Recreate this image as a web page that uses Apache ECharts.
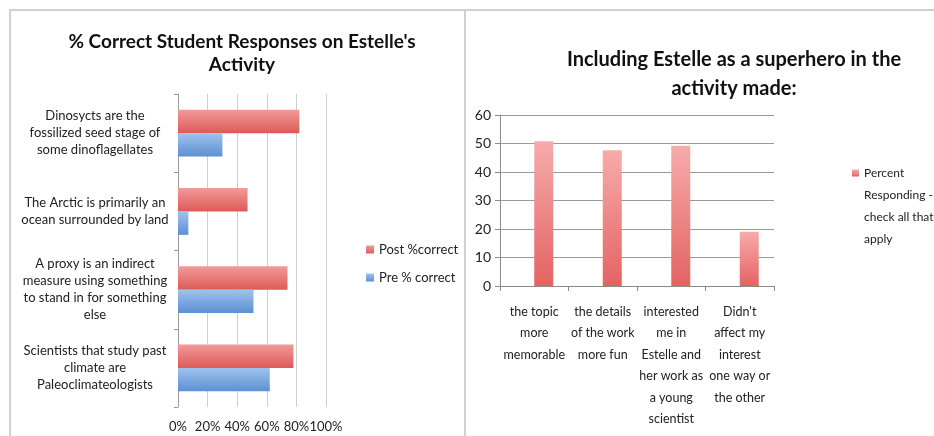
<!DOCTYPE html>
<html>
<head>
<meta charset="utf-8">
<script src="https://cdn.jsdelivr.net/npm/echarts@6/dist/echarts.min.js"></script>
<style>html,body{margin:0;padding:0;background:#fff;}#c{width:934px;height:436px;}</style>
</head>
<body>
<div id="c"></div>
<script>
// Left chart data
const leftTitle = "% Correct Student Responses on Estelle's\nActivity";
const leftCategories = [
  "Dinosycts are the\nfossilized seed stage of\nsome dinoflagellates",
  "The Arctic is primarily an\nocean surrounded by land",
  "A proxy is an indirect\nmeasure using something\nto stand in for something\nelse",
  "Scientists that study past\nclimate are\nPaleoclimateologists"
];
const postCorrect = [82, 47, 74, 78];
const preCorrect = [30, 7, 51, 62];
const leftSeriesNames = ["Post %correct", "Pre % correct"];

// Right chart data
const rightTitle = "Including Estelle as a superhero in the\nactivity made:";
const rightCategories = [
  "the topic\nmore\nmemorable",
  "the details\nof the work\nmore fun",
  "interested\nme in\nEstelle and\nher work as\na young\nscientist",
  "Didn't\naffect my\ninterest\none way or\nthe other"
];
const percentResponding = [50.8, 47.6, 49.2, 19.0];
const rightSeriesName = "Percent\nResponding -\ncheck all that\napply";

const FONT = "Lato";
const chart = echarts.init(document.getElementById('c'));

function vgrad(a, b) {
  return new echarts.graphic.LinearGradient(0, 0, 0, 1, [{offset: 0, color: a}, {offset: 1, color: b}]);
}

chart.setOption({
  animation: false,
  textStyle: {fontFamily: FONT, color: '#222'},
  graphic: [
    {type: 'rect', shape: {x: 10, y: 10, width: 455, height: 440}, style: {fill: 'none', stroke: '#d0d0d0', lineWidth: 2}, silent: true},
    {type: 'rect', shape: {x: 465, y: 10, width: 480, height: 440}, style: {fill: 'none', stroke: '#d0d0d0', lineWidth: 2}, silent: true}
  ],
  title: [
    {text: leftTitle, left: 237, top: 25, textAlign: 'center',
     textStyle: {fontFamily: FONT, fontSize: 19, fontWeight: 'bold', color: '#111', lineHeight: 23}},
    {text: rightTitle, left: 729, top: 40, textAlign: 'center',
     textStyle: {fontFamily: FONT, fontSize: 20, fontWeight: 'bold', color: '#111', lineHeight: 29}}
  ],
  legend: [
    {orient: 'vertical', left: 361, top: 238, itemWidth: 8, itemHeight: 8, itemGap: 15, icon: 'rect',
     data: leftSeriesNames, textStyle: {fontFamily: FONT, fontSize: 13, color: '#222'}},
    {orient: 'vertical', left: 847, top: 118, itemWidth: 7, itemHeight: 7, icon: 'rect', itemGap: 0,
     data: [rightSeriesName],
     formatter: function (name) {
       return '{b| }\n' + name.split('\n').map(s => '{a|' + s + '}').join('\n');
     },
     textStyle: {fontFamily: FONT, fontSize: 12, color: '#222',
       rich: {a: {fontFamily: FONT, fontSize: 12, lineHeight: 22, color: '#222'},
              b: {fontSize: 12, lineHeight: 66}}}}
  ],
  grid: [
    {left: 178, right: 608, top: 94, bottom: 29, outerBoundsMode: 'none', containLabel: false},
    {left: 500, right: 160, top: 115, bottom: 150, outerBoundsMode: 'none', containLabel: false}
  ],
  xAxis: [
    {type: 'value', gridIndex: 0, min: 0, max: 100, interval: 20,
     axisLine: {show: false}, axisTick: {show: false},
     splitLine: {lineStyle: {color: '#cfcfcf', width: 1}},
     axisLabel: {formatter: '{value}%', fontSize: 13, margin: 13, color: '#222', fontFamily: FONT, hideOverlap: false}},
    {type: 'category', gridIndex: 1, data: rightCategories,
     axisLine: {lineStyle: {color: '#8a8a8a'}},
     axisTick: {show: true, length: 5, lineStyle: {color: '#8a8a8a'}},
     axisLabel: {fontSize: 12.5, lineHeight: 21.5, margin: 15, color: '#222', fontFamily: FONT, interval: 0}}
  ],
  yAxis: [
    {type: 'category', gridIndex: 0, inverse: true, data: leftCategories,
     axisLine: {lineStyle: {color: '#9a9a9a'}},
     axisTick: {show: true, length: 4, lineStyle: {color: '#9a9a9a'}},
     axisLabel: {align: 'center', margin: 83, fontSize: 13, lineHeight: 17, color: '#222', fontFamily: FONT, interval: 0}},
    {type: 'value', gridIndex: 1, min: 0, max: 60, interval: 10,
     axisLine: {show: true, lineStyle: {color: '#8a8a8a'}},
     axisTick: {show: true, length: 5, lineStyle: {color: '#8a8a8a'}},
     splitLine: {lineStyle: {color: '#9a9a9a'}},
     axisLabel: {fontSize: 14, margin: 9, color: '#222', fontFamily: FONT}}
  ],
  series: [
    {name: leftSeriesNames[0], type: 'bar', xAxisIndex: 0, yAxisIndex: 0, data: postCorrect,
     barGap: '0%', barCategoryGap: '40%',
     itemStyle: {color: vgrad('#f39a98', '#dc5b58')}},
    {name: leftSeriesNames[1], type: 'bar', xAxisIndex: 0, yAxisIndex: 0, data: preCorrect,
     barGap: '0%', barCategoryGap: '40%',
     itemStyle: {color: vgrad('#9fc3ee', '#5d8fd3')}},
    {name: '', type: 'bar', xAxisIndex: 1, yAxisIndex: 1, data: [null, null, null, null],
     barWidth: 19, barGap: '0%'},
    {name: rightSeriesName, type: 'bar', xAxisIndex: 1, yAxisIndex: 1, data: percentResponding,
     barWidth: 19, barGap: '0%',
     itemStyle: {color: vgrad('#f7abab', '#e46363')}}
  ]
});
</script>
</body>
</html>
